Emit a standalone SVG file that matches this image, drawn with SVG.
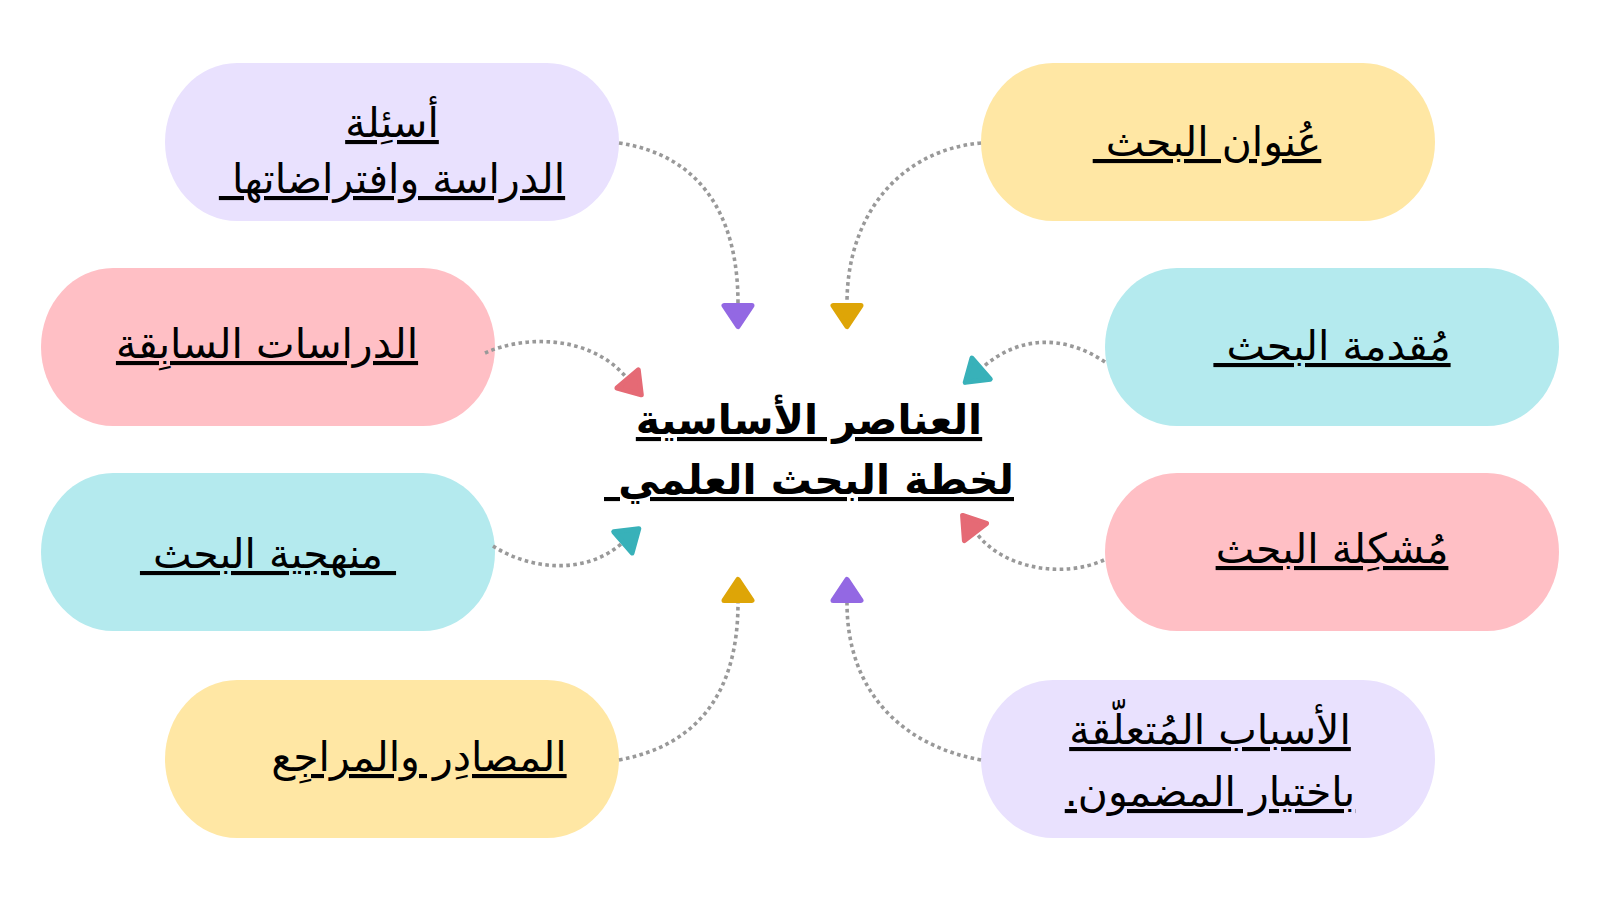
<svg xmlns="http://www.w3.org/2000/svg" width="1600" height="900" viewBox="0 0 1600 900">
<style>
.bg{fill:#ffffff}
.node{stroke:none}
.lav{fill:#E9E1FE}
.yel{fill:#FFE7A4}
.pnk{fill:#FFBFC5}
.cyn{fill:#B4EAEE}
.t{font-family:"DejaVu Sans",sans-serif;font-size:41px;fill:#000;text-anchor:middle;direction:rtl;text-decoration:underline;text-decoration-thickness:2.5px;text-underline-offset:5px}
.title{font-family:"DejaVu Sans",sans-serif;font-size:41px;font-weight:bold;fill:#000;text-anchor:middle;direction:rtl;text-decoration:underline;text-decoration-thickness:3.5px;text-underline-offset:5px}
.link{fill:none;stroke:#999999;stroke-width:3.6;stroke-dasharray:3.6 3.4}
.ah{stroke-width:5;stroke-linejoin:round;stroke-dasharray:none}
.ap{fill:#9368E3;stroke:#9368E3}
.ag{fill:#DEA507;stroke:#DEA507}
.ar{fill:#E56A75;stroke:#E56A75}
.at{fill:#38B1B9;stroke:#38B1B9}
</style>
<defs>
<marker id="mp" markerUnits="userSpaceOnUse" viewBox="0 -17 28 34" markerWidth="28" markerHeight="34" refX="0" refY="0" orient="auto" overflow="visible"><path class="ah ap" d="M2.5,-14 L23.5,0 L2.5,14 Z"/></marker>
<marker id="mg" markerUnits="userSpaceOnUse" viewBox="0 -17 28 34" markerWidth="28" markerHeight="34" refX="0" refY="0" orient="auto" overflow="visible"><path class="ah ag" d="M2.5,-14 L23.5,0 L2.5,14 Z"/></marker>
<marker id="mr" markerUnits="userSpaceOnUse" viewBox="0 -17 28 34" markerWidth="28" markerHeight="34" refX="0" refY="0" orient="auto" overflow="visible"><path class="ah ar" d="M2.5,-14 L23.5,0 L2.5,14 Z"/></marker>
<marker id="mt" markerUnits="userSpaceOnUse" viewBox="0 -17 28 34" markerWidth="28" markerHeight="34" refX="0" refY="0" orient="auto" overflow="visible"><path class="ah at" d="M2.5,-14 L23.5,0 L2.5,14 Z"/></marker>
</defs>
<rect class="bg" x="0" y="0" width="1600" height="900"/>

<g id="n1">
<rect class="node yel" x="981" y="63" width="454" height="158" rx="72" ry="79"/>
<text class="t" x="1207" y="156">عُنوان البحث&#160;</text>
</g>
<g id="n2">
<rect class="node cyn" x="1105" y="268" width="454" height="158" rx="72" ry="79"/>
<text class="t" x="1332" y="360">مُقدمة البحث&#160;</text>
</g>
<g id="n3">
<rect class="node pnk" x="1105" y="473" width="454" height="158" rx="72" ry="79"/>
<text class="t" x="1332" y="563">مُشكِلة البحث</text>
</g>
<g id="n4">
<rect class="node lav" x="981" y="680" width="454" height="158" rx="72" ry="79"/>
<text class="t" x="1210" y="744">الأسباب المُتعلّقة</text>
<text class="t" x="1210" y="806">باختيار المضمون.</text>
</g>
<g id="n5">
<rect class="node lav" x="165" y="63" width="454" height="158" rx="72" ry="79"/>
<text class="t" x="392" y="137">أسئِلة</text>
<text class="t" x="392" y="193">الدراسة وافتراضاتها&#160;</text>
</g>
<g id="n6">
<rect class="node pnk" x="41" y="268" width="454" height="158" rx="72" ry="79"/>
<text class="t" x="267" y="358">الدراسات السابِقة</text>
</g>
<g id="n7">
<rect class="node cyn" x="41" y="473" width="454" height="158" rx="72" ry="79"/>
<text class="t" x="268" y="568">&#160;منهجية البحث&#160;</text>
</g>
<g id="n8">
<rect class="node yel" x="165" y="680" width="454" height="158" rx="72" ry="79"/>
<text class="t" x="419" y="771">المصادِر والمراجِع</text>
</g>
<g id="center">
<text class="title" x="809" y="434">العناصر الأساسية</text>
<text class="title" x="809" y="494">لخطة البحث العلمي&#160;</text>
</g>

<g id="connectors">
<path class="link" d="M619 143 C700 155 738 215 738 303" marker-end="url(#mp)"/>
<path class="link" d="M981 143 C900 150 847 215 847 303" marker-end="url(#mg)"/>
<path class="link" d="M485 353 C525 335 590 335 626 377" marker-end="url(#mr)"/>
<path class="link" d="M1105 362 C1065 335 1020 335 983 367" marker-end="url(#mt)"/>
<path class="link" d="M493 546 C530 570 585 575 621 544" marker-end="url(#mt)"/>
<path class="link" d="M1104 560 C1065 578 1005 570 977 534" marker-end="url(#mr)"/>
<path class="link" d="M619 760 C700 745 738 690 738 603" marker-end="url(#mg)"/>
<path class="link" d="M981 760 C900 745 847 690 847 603" marker-end="url(#mp)"/>
</g>
</svg>
